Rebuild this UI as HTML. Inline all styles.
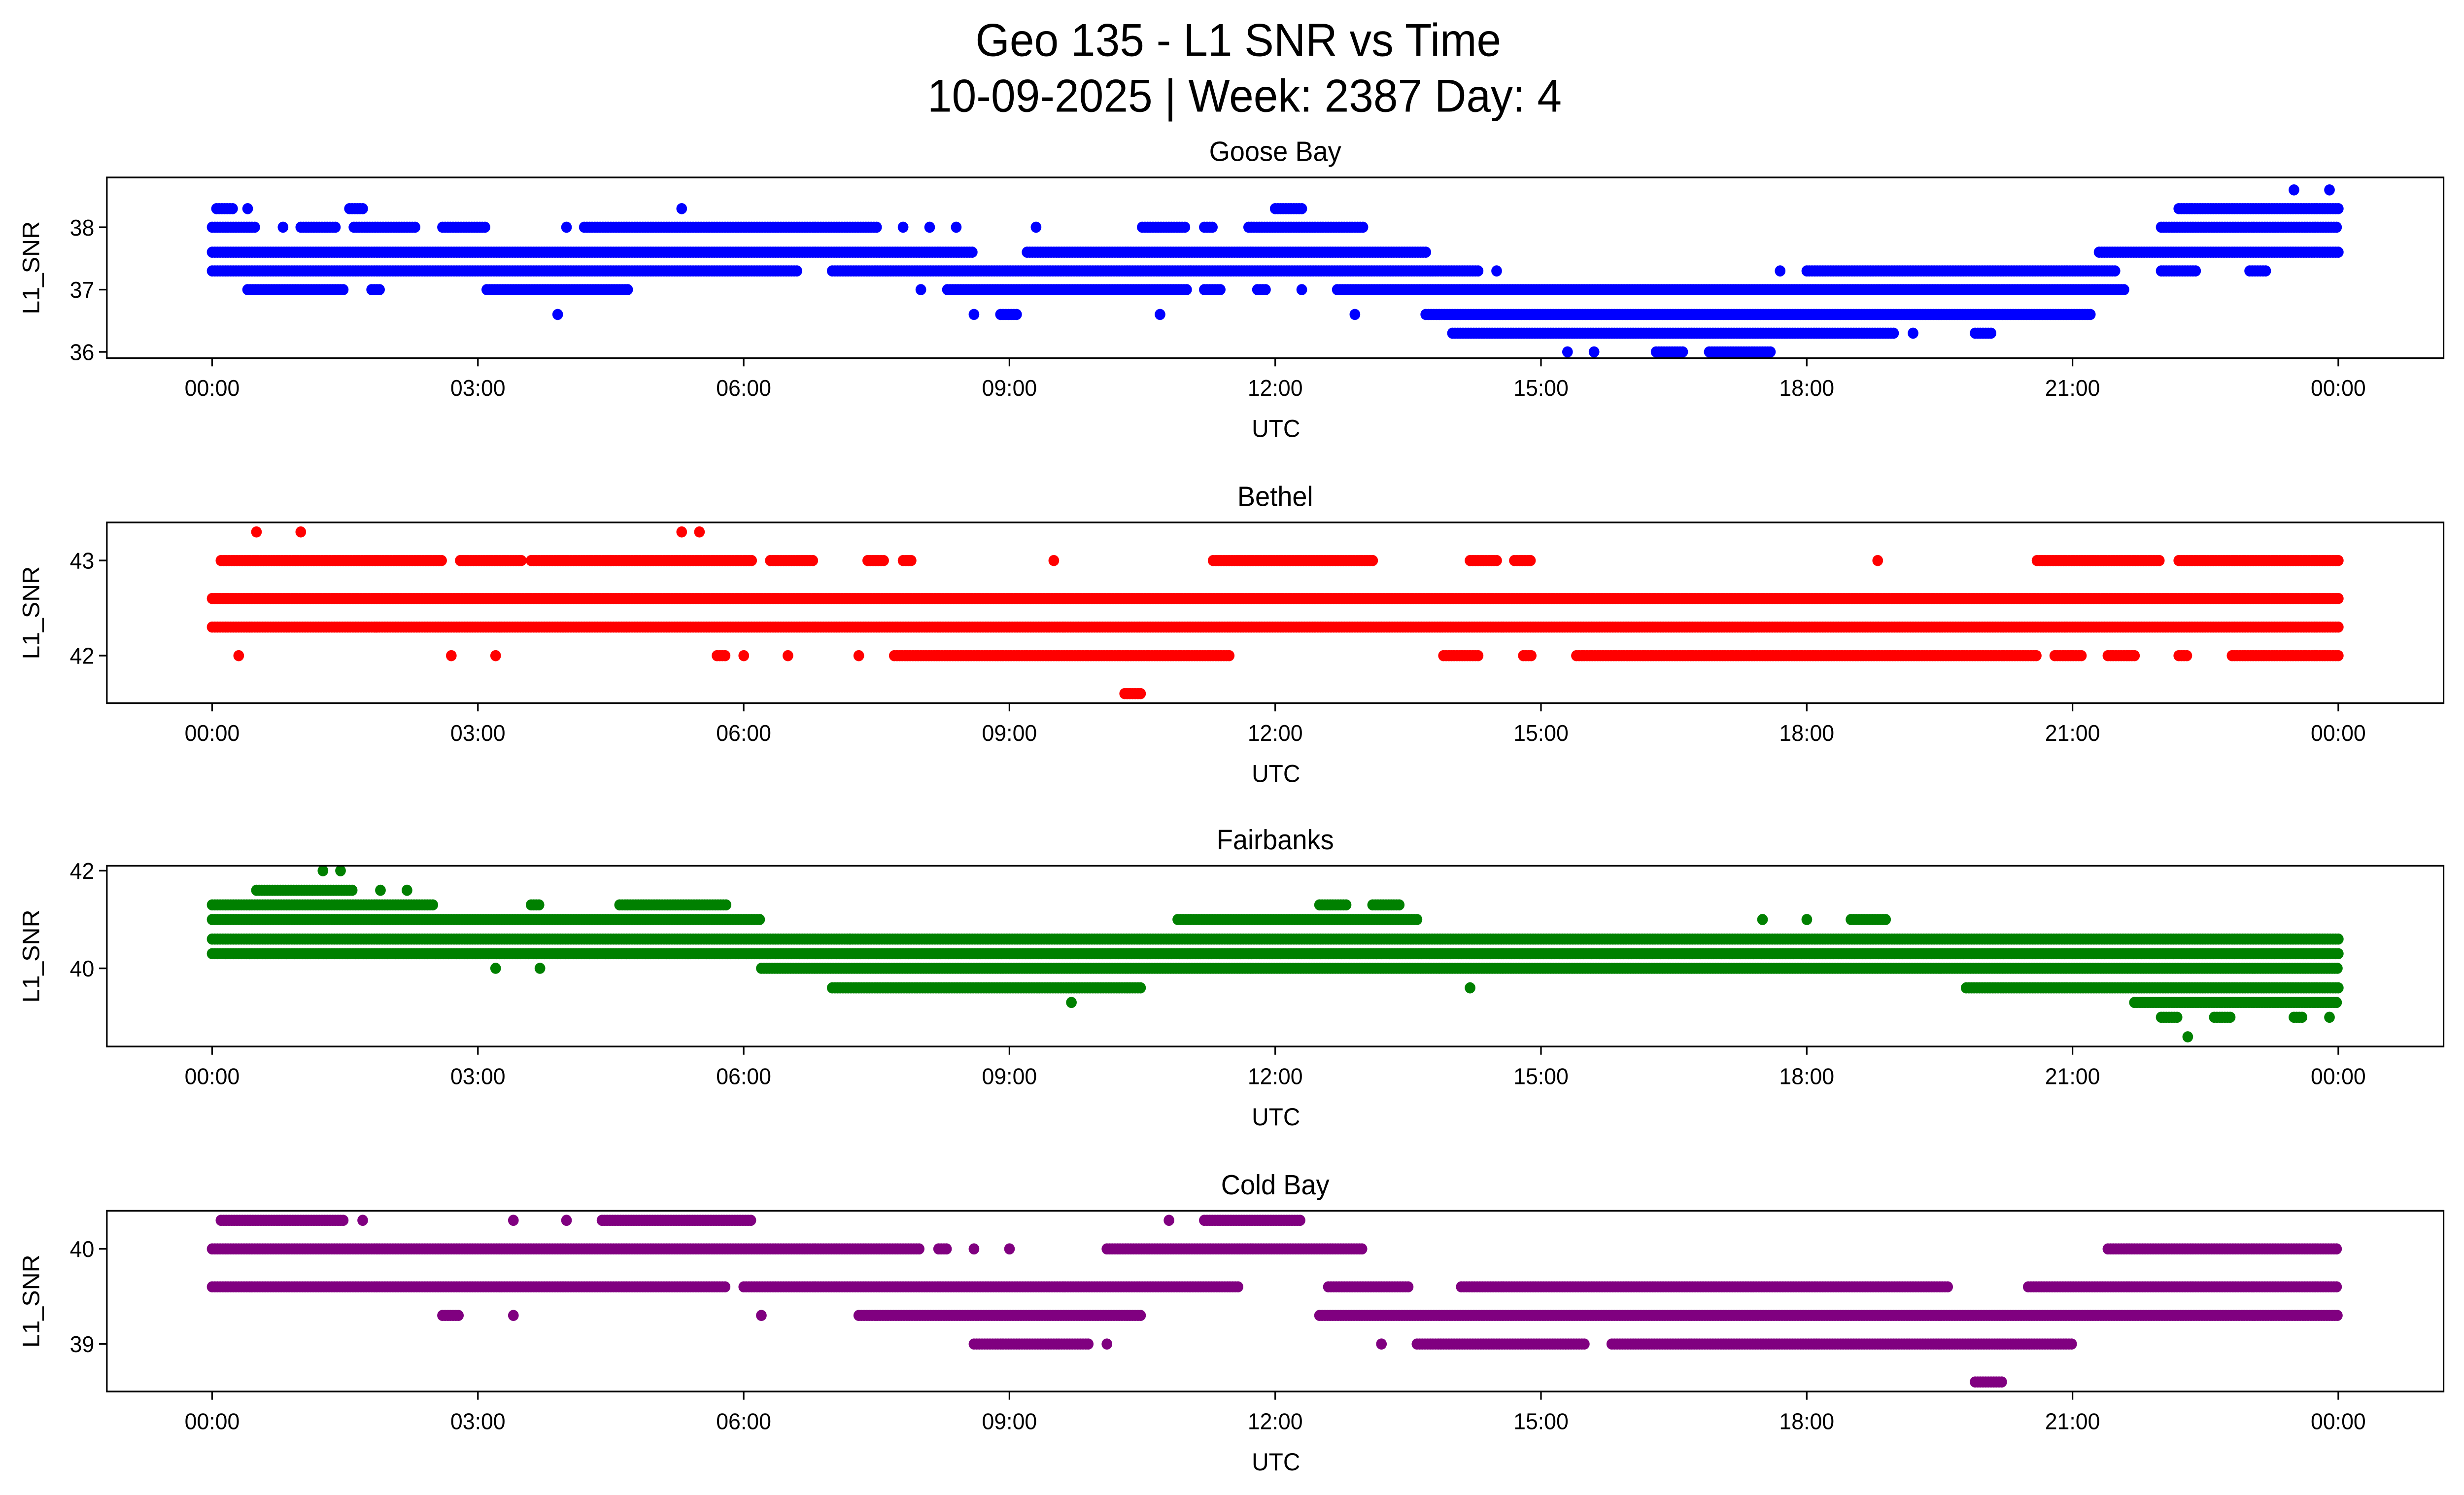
<!DOCTYPE html>
<html><head><meta charset="utf-8"><style>
html,body{margin:0;padding:0;background:#fff;overflow:hidden;width:100%;height:100%;}
svg{display:block;position:absolute;left:0;top:0;width:100vw;height:100vh;font-family:"Liberation Sans","DejaVu Sans",sans-serif;}
</style></head><body>
<svg id="fig" xmlns="http://www.w3.org/2000/svg" viewBox="0 0 1568 910" preserveAspectRatio="none">
<rect width="1568" height="910" fill="#fff"/>
<text x="788" y="34" font-size="28" text-anchor="middle">Geo 135 - L1 SNR vs Time</text>
<text x="792" y="68" font-size="28" text-anchor="middle">10-09-2025 | Week: 2387 Day: 4</text>
<g id="panels"></g>
</svg>
<script>
// Tick labels for the x axis (hours)
const xTickHours = [0,3,6,9,12,15,18,21,24];
const xTickLabels = ["00:00","03:00","06:00","09:00","12:00","15:00","18:00","21:00","00:00"];
// Station names & colours
const stations = ["Goose Bay","Bethel","Fairbanks","Cold Bay"];
const colors = ["#0000ff","#ff0000","#008000","#800080"];
// Y-axis ranges and ticks
const yMins = [35.9, 41.5, 38.4, 38.5];
const yMaxs = [38.8, 43.4, 42.1, 40.4];
const yTicks0 = [36,37,38];
const yTicks1 = [42,43];
const yTicks2 = [40,42];
const yTicks3 = [39,40];
// Data: [SNR level, start hour, end hour] segments where samples exist
const gooseBay = [
 [38.6,23.5,23.5],[38.6,23.9,23.9],
 [38.3,0.05,0.25],[38.3,0.4,0.4],[38.3,1.55,1.7],[38.3,5.3,5.3],[38.3,12.0,12.3],[38.3,22.2,24],
 [38,0,0.5],[38,0.8,0.8],[38,1.0,1.4],[38,1.6,2.3],[38,2.6,3.1],[38,4.0,4.0],[38,4.2,7.5],[38,7.8,7.8],[38,8.1,8.1],[38,8.4,8.4],[38,9.3,9.3],[38,10.5,11.0],[38,11.2,11.3],[38,11.7,13.0],[38,22.0,24],
 [37.6,0,8.6],[37.6,9.2,13.7],[37.6,21.3,24],
 [37.3,0,6.6],[37.3,7.0,14.3],[37.3,14.5,14.5],[37.3,17.7,17.7],[37.3,18.0,21.5],[37.3,22.0,22.4],[37.3,23.0,23.2],
 [37,0.4,1.5],[37,1.8,1.9],[37,3.1,4.7],[37,8.0,8.0],[37,8.3,11.0],[37,11.2,11.4],[37,11.8,11.9],[37,12.3,12.3],[37,12.7,21.6],
 [36.6,3.9,3.9],[36.6,8.6,8.6],[36.6,8.9,9.1],[36.6,10.7,10.7],[36.6,12.9,12.9],[36.6,13.7,21.2],
 [36.3,14.0,19.0],[36.3,19.2,19.2],[36.3,19.9,20.1],
 [36,15.3,15.3],[36,15.6,15.6],[36,16.3,16.6],[36,16.9,17.6]
];
const bethel = [
 [43.3,0.5,0.5],[43.3,1.0,1.0],[43.3,5.3,5.3],[43.3,5.5,5.5],
 [43,0.1,2.6],[43,2.8,3.5],[43,3.6,4.5],[43,4.5,6.1],[43,6.3,6.8],[43,7.4,7.6],[43,7.8,7.9],[43,9.5,9.5],[43,11.3,13.1],[43,14.2,14.5],[43,14.7,14.9],[43,18.8,18.8],[43,20.6,22.0],[43,22.2,24],
 [42.6,0,24],
 [42.3,0,24],
 [42,0.3,0.3],[42,2.7,2.7],[42,3.2,3.2],[42,5.7,5.8],[42,6.0,6.0],[42,6.5,6.5],[42,7.3,7.3],[42,7.7,11.5],[42,13.9,14.3],[42,14.8,14.9],[42,15.4,20.6],[42,20.8,21.1],[42,21.4,21.7],[42,22.2,22.3],[42,22.8,24],
 [41.6,10.3,10.5]
];
const fairbanks = [
 [42,1.25,1.25],[42,1.45,1.45],
 [41.6,0.5,1.6],[41.6,1.9,1.9],[41.6,2.2,2.2],
 [41.3,0,2.5],[41.3,3.6,3.7],[41.3,4.6,5.8],[41.3,12.5,12.8],[41.3,13.1,13.4],
 [41,0,6.2],[41,10.9,13.6],[41,17.5,17.5],[41,18.0,18.0],[41,18.5,18.9],
 [40.6,0,7.2],[40.6,7.2,24],
 [40.3,0,24],
 [40,3.2,3.2],[40,3.7,3.7],[40,6.2,24],
 [39.6,7.0,10.5],[39.6,14.2,14.2],[39.6,19.8,24],
 [39.3,9.7,9.7],[39.3,21.7,24],
 [39,22.0,22.2],[39,22.6,22.8],[39,23.5,23.6],[39,23.9,23.9],
 [38.6,22.3,22.3]
];
const coldBay = [
 [40.3,0.1,1.5],[40.3,1.7,1.7],[40.3,3.4,3.4],[40.3,4.0,4.0],[40.3,4.4,6.1],[40.3,10.8,10.8],[40.3,11.2,12.3],
 [40,0,8.0],[40,8.2,8.3],[40,8.6,8.6],[40,9.0,9.0],[40,10.1,13.0],[40,21.4,24],
 [39.6,0,5.8],[39.6,6.0,11.6],[39.6,12.6,13.5],[39.6,14.1,19.6],[39.6,20.5,24],
 [39.3,2.6,2.8],[39.3,3.4,3.4],[39.3,6.2,6.2],[39.3,7.3,10.5],[39.3,12.5,24],
 [39,8.6,9.9],[39,10.1,10.1],[39,13.2,13.2],[39,13.6,15.5],[39,15.8,21.0],
 [38.6,19.9,20.2]
];
const seriesList = [gooseBay, bethel, fairbanks, coldBay];
const yTicksList = [yTicks0, yTicks1, yTicks2, yTicks3];

const NS = "http://www.w3.org/2000/svg";
const AX_L = 68, AX_R = 1555;
const axTops = [108, 318, 527, 737];
const AX_H = 110;
const X0 = 135, X24 = 1488;
function xScale(h){ return X0 + (X24 - X0) * h / 24; }
function mk(tag, attrs, parent){
  const e = document.createElementNS(NS, tag);
  for (const k in attrs) e.setAttribute(k, attrs[k]);
  parent.appendChild(e); return e;
}
const root = document.getElementById("panels");
stations.forEach((name, i) => {
  const top = axTops[i];
  const yMin = yMins[i], yMax = yMaxs[i];
  const yScale = v => top + AX_H - (v - yMin) / (yMax - yMin) * AX_H;
  const g = mk("g", {}, root);
  
  
  const title = mk("text", {x: (AX_L+AX_R)/2, y: top - 10, "font-size": 17, "text-anchor": "middle"}, g);
  title.textContent = name;
  
  
  const pts = mk("g", {fill: colors[i]}, g);
  
  
  seriesList[i].forEach(seg => {
    const [lv, a, b] = seg;
    const y = yScale(lv);
    for (let h = a; h <= b + 1e-9; h += 0.03) {
      const c = mk("circle", {cx: xScale(h).toFixed(1), cy: y.toFixed(1), r: 3.4}, pts);
      
      
    }
  });
  const fr = mk("rect", {x: AX_L, y: top, width: AX_R-AX_L, height: AX_H, fill: "none", stroke: "#000", "stroke-width": 1}, g);
  
  
  xTickHours.forEach((h, j) => {
    const x = xScale(h);
    const t = mk("line", {x1: x, x2: x, y1: top+AX_H, y2: top+AX_H+5, stroke: "#000", "stroke-width": 1}, g);
    
    
    const tl = mk("text", {x: x, y: top+AX_H+23, "font-size": 14, "text-anchor": "middle"}, g);
    tl.textContent = xTickLabels[j];
    
    
  });
  const xl = mk("text", {x: 812, y: top+AX_H+48, "font-size": 15, "text-anchor": "middle"}, g);
  xl.textContent = "UTC";
  
  
  yTicksList[i].forEach(v => {
    const y = yScale(v);
    const t = mk("line", {x1: AX_L-5, x2: AX_L, y1: y, y2: y, stroke: "#000", "stroke-width": 1}, g);
    
    
    const tl = mk("text", {x: AX_L-8, y: y+5, "font-size": 14, "text-anchor": "end"}, g);
    tl.textContent = v;
    
    
  });
  const yl = mk("text", {x: 0, y: 0, "font-size": 15, "text-anchor": "middle", transform: `translate(25,${top+AX_H/2}) rotate(-90)`}, g);
  yl.textContent = "L1_SNR";
  
  
});
</script>
</body></html>
